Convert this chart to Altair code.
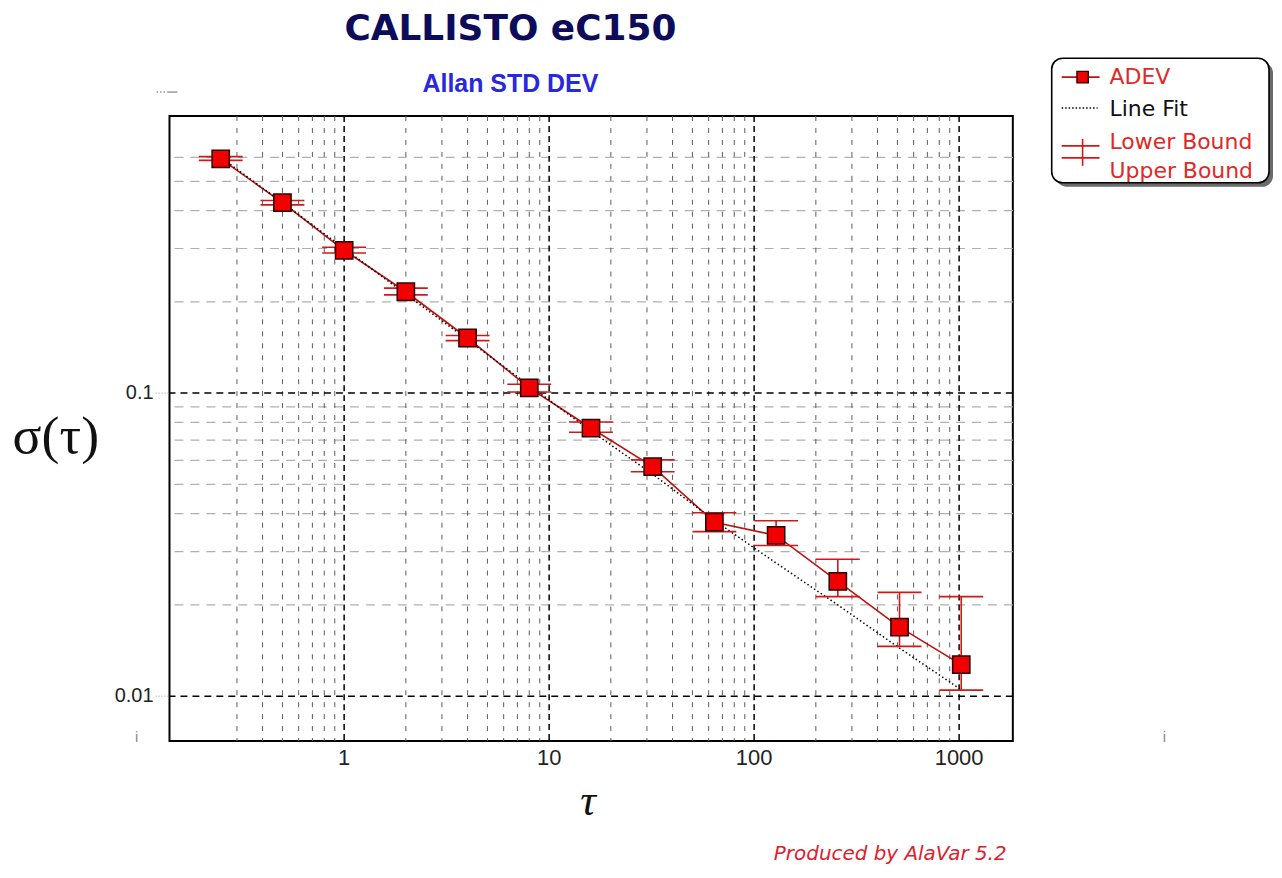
import altair as alt
import pandas as pd

# ---------------- data ----------------
tau = [0.25, 0.5, 1, 2, 4, 8, 16, 32, 64, 128, 256, 512, 1024]
adev = [0.593, 0.425, 0.296, 0.216, 0.152, 0.104, 0.0767, 0.0572, 0.0375, 0.0339, 0.0239, 0.0169, 0.0127]
lower = [0.586, 0.418, 0.290, 0.211, 0.149, 0.1008, 0.0743, 0.0550, 0.0349, 0.0314, 0.0213, 0.0146, 0.01047]
upper = [0.603, 0.432, 0.303, 0.222, 0.155, 0.107, 0.0803, 0.0602, 0.0403, 0.0379, 0.0283, 0.0220, 0.0213]
fit = [0.600, 0.425, 0.300, 0.212, 0.150, 0.106, 0.075, 0.054, 0.038, 0.0275, 0.0200, 0.0144, 0.0105]

x_minor = [0.3, 0.4, 0.5, 0.6, 0.7, 0.8, 0.9,
           2, 3, 4, 5, 6, 7, 8, 9,
           20, 30, 40, 50, 60, 70, 80, 90,
           200, 300, 400, 500, 600, 700, 800, 900]
x_major = [1, 10, 100, 1000]
y_minor = [0.02, 0.03, 0.04, 0.05, 0.06, 0.07, 0.08, 0.09, 0.2, 0.3, 0.4, 0.5, 0.6]
y_major = [0.01, 0.1]

x_ticks = [1, 10, 100, 1000]
x_tick_labels = ["1", "10", "100", "1000"]
y_ticks = [0.01, 0.1]
y_tick_labels = ["0.01", "0.1"]

title_text = "CALLISTO eC150"
subtitle_text = "Allan STD DEV"
legend_labels = ["ADEV", "Line Fit", "Lower Bound", "Upper Bound"]
footer_text = "Produced by AlaVar 5.2"
y_title = "σ(τ)"
x_title = "τ"

# ---------------- layout / style ----------------
W, H = 846, 627
RED = "#d01818"
xs = alt.Scale(type="log", domain=[0.1406, 1828], nice=False)
ys = alt.Scale(type="log", domain=[0.00711, 0.821], nice=False)

df = pd.DataFrame({"tau": tau, "adev": adev, "lower": lower, "upper": upper, "fit": fit})
base = alt.Chart(df)


def X(f):
    return alt.X(f, scale=xs, axis=None, title=None)


def Y(f):
    return alt.Y(f, scale=ys, axis=None, title=None)


# grid
gx_minor = alt.Chart(pd.DataFrame({"v": x_minor})).mark_rule(
    color="#5a5a5a", strokeWidth=1, strokeDash=[5, 7]).encode(x=X("v:Q"))
gx_major = alt.Chart(pd.DataFrame({"v": x_major})).mark_rule(
    color="#000000", strokeWidth=1.5, strokeDash=[6, 4]).encode(x=X("v:Q"))
gy_minor = alt.Chart(pd.DataFrame({"v": y_minor})).mark_rule(
    color="#b0b0b0", strokeWidth=1.2, strokeDash=[9, 7]).encode(y=Y("v:Q"))
gy_major = alt.Chart(pd.DataFrame({"v": y_major})).mark_rule(
    color="#000000", strokeWidth=1.5, strokeDash=[7, 5]).encode(y=Y("v:Q"))

# tick labels (placed through the scales)
xlab = alt.Chart(pd.DataFrame({"v": x_ticks, "t": x_tick_labels})).mark_text(
    font="Liberation Sans", fontSize=22, color="#222222", align="center", baseline="middle"
).encode(x=X("v:Q"), y=alt.value(H + 17), text="t:N")
ylab = alt.Chart(pd.DataFrame({"v": y_ticks, "t": y_tick_labels})).mark_text(
    font="Liberation Sans", fontSize=20, color="#222222", align="right", baseline="middle"
).encode(y=Y("v:Q"), x=alt.value(-16), text="t:N")
ytick = alt.Chart(pd.DataFrame({"v": y_ticks})).mark_rule(
    color="#999999", strokeWidth=1, strokeDash=[1, 2]
).encode(y=Y("v:Q"), x=alt.value(-14), x2=alt.value(0))

# data series
adev_line = base.mark_line(color="#c01010", strokeWidth=1.6).encode(x=X("tau:Q"), y=Y("adev:Q"))
fit_line = base.mark_line(color="#000000", strokeWidth=1.5, strokeDash=[1.5, 2.5]).encode(
    x=X("tau:Q"), y=Y("fit:Q"))
err = base.mark_rule(color=RED, strokeWidth=1.6).encode(x=X("tau:Q"), y=Y("lower:Q"), y2="upper:Q")
cap_lo = base.mark_tick(orient="horizontal", size=44, thickness=1.6, color=RED, opacity=1).encode(
    x=X("tau:Q"), y=Y("lower:Q"))
cap_hi = base.mark_tick(orient="horizontal", size=44, thickness=1.6, color=RED, opacity=1).encode(
    x=X("tau:Q"), y=Y("upper:Q"))
squares = base.mark_square(filled=True, size=300, fill="#f00000", stroke="#2a0000",
                           strokeWidth=1.5, opacity=1).encode(x=X("tau:Q"), y=Y("adev:Q"))


def one():
    return alt.Chart(pd.DataFrame({"k": [0]}))


def label(text, x, y, **kw):
    return alt.Chart(pd.DataFrame({"t": [text]})).mark_text(**kw).encode(
        x=alt.value(x), y=alt.value(y), text="t:N")


def hline(x1, x2, y, **kw):
    return one().mark_rule(**kw).encode(x=alt.value(x1), x2=alt.value(x2), y=alt.value(y))


def vline(x, y1, y2, **kw):
    return one().mark_rule(**kw).encode(x=alt.value(x), y=alt.value(y1), y2=alt.value(y2))


# titles and texts
t_title = label(title_text, 342, -76, font="DejaVu Sans", fontSize=36, fontWeight="bold",
                color="#0c0c5a", align="center", baseline="alphabetic")
t_sub = label(subtitle_text, 342, -32, font="Liberation Sans", fontSize=25, fontWeight="bold",
              color="#2828dc", align="center", baseline="middle")
t_ytitle = label(y_title, -114, 322, font="Liberation Serif", fontSize=54,
                 color="#111111", align="center", baseline="middle")
t_xtitle = label(x_title, 420, 688, font="Liberation Serif", fontSize=44, fontStyle="italic",
                 color="#111111", align="center", baseline="middle")
t_footer = label(footer_text, 723, 740, font="DejaVu Sans", fontSize=20, fontStyle="italic",
                 color="#dd2030", align="center", baseline="middle")
t_i1 = label("i", -33, 623, font="Liberation Sans", fontSize=15, color="#888888",
             align="center", baseline="middle")
t_i2 = label("i", 998, 623, font="Liberation Sans", fontSize=15, color="#888888",
             align="center", baseline="middle")
art1 = hline(-13, -2, -24, color="#999999", strokeWidth=1.5, strokeDash=[1.5, 2])
art2 = hline(-2, 8, -24, color="#999999", strokeWidth=1.5)

# custom legend
leg_shadow = one().mark_rect(cornerRadius=11, fill="#6a6a6a").encode(
    x=alt.value(889), x2=alt.value(1107), y=alt.value(-54), y2=alt.value(71))
leg_box = one().mark_rect(cornerRadius=11, fill="white", stroke="black", strokeWidth=1.6).encode(
    x=alt.value(885), x2=alt.value(1103), y=alt.value(-58), y2=alt.value(67))
leg_adev_line = hline(895, 933, -39, color="#c01010", strokeWidth=1.6)
leg_adev_sq = one().mark_square(filled=True, size=130, fill="#f00000", stroke="#2a0000",
                                strokeWidth=1.3, opacity=1).encode(x=alt.value(916), y=alt.value(-39))
leg_fit_line = hline(895, 931, -8, color="#000000", strokeWidth=1.4, strokeDash=[1.5, 2])
leg_b1 = hline(895, 933, 30, color=RED, strokeWidth=1.6)
leg_b2 = hline(895, 933, 42, color=RED, strokeWidth=1.6)
leg_bv = vline(916, 23, 50, color=RED, strokeWidth=1.6)
leg_txt = [
    label(legend_labels[0], 943, -39, font="DejaVu Sans", fontSize=22, color="#e02828",
          align="left", baseline="middle"),
    label(legend_labels[1], 943, -7, font="DejaVu Sans", fontSize=22, color="#111111",
          align="left", baseline="middle"),
    label(legend_labels[2], 943, 26, font="DejaVu Sans", fontSize=22, color="#e02828",
          align="left", baseline="middle"),
    label(legend_labels[3], 943, 55, font="DejaVu Sans", fontSize=22, color="#e02828",
          align="left", baseline="middle"),
]

chart = alt.layer(
    gy_minor, gx_minor, gy_major, gx_major, ytick, xlab, ylab,
    adev_line, fit_line, err, cap_lo, cap_hi, squares,
    t_title, t_sub, t_ytitle, t_xtitle, t_footer, t_i1, t_i2, art1, art2,
    leg_shadow, leg_box, leg_adev_line, leg_adev_sq, leg_fit_line, leg_b1, leg_b2, leg_bv,
    *leg_txt,
).properties(
    width=W, height=H,
    background="white",
    autosize=alt.AutoSizeParams(type="none"),
    padding={"left": 162, "top": 107, "right": 262, "bottom": 124},
).configure_view(stroke="black", strokeWidth=2)

chart.save("out.html", embed_options={"renderer": "svg", "actions": False})
